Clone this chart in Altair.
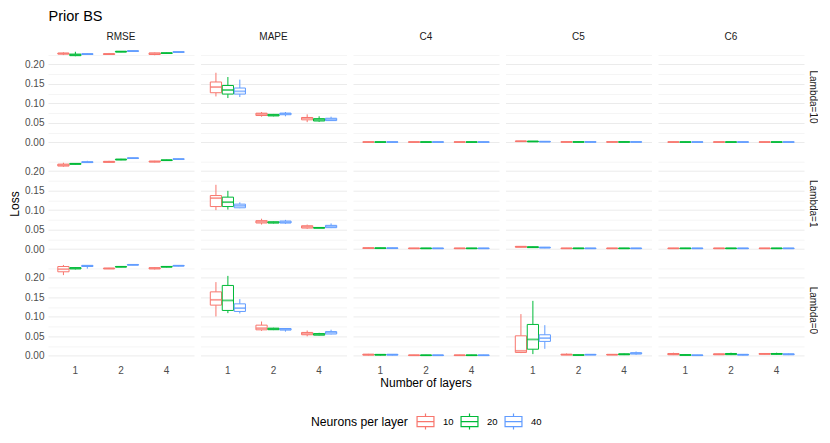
import altair as alt
import pandas as pd

FONT = "Liberation Sans"

lambdas = ["Lambda=10", "Lambda=1", "Lambda=0"]
metrics = ["RMSE", "MAPE", "C4", "C5", "C6"]
layers = ["1", "2", "4"]
neurons = ["10", "20", "40"]
colors = ["#F8766D", "#00BA38", "#619CFF"]

# Each list holds 9 boxes: layer 1 (10, 20, 40 neurons), layer 2 (...), layer 4 (...)
# Each box: (lower whisker, Q1, median, Q3, upper whisker)
rmse_l10 = [(0.224, 0.2265, 0.228, 0.229, 0.231), (0.221, 0.2225, 0.2245, 0.2265, 0.2325), (0.2245, 0.2255, 0.2265, 0.2275, 0.229),
            (0.2245, 0.2255, 0.2265, 0.2275, 0.2295), (0.2315, 0.232, 0.2327, 0.2335, 0.234), (0.233, 0.2335, 0.2343, 0.235, 0.2355),
            (0.2235, 0.2255, 0.2275, 0.2295, 0.2305), (0.2275, 0.2283, 0.229, 0.2297, 0.2305), (0.2305, 0.231, 0.2318, 0.2325, 0.233)]
mape_l10 = [(0.118, 0.1274, 0.142, 0.155, 0.1787), (0.1138, 0.124, 0.1344, 0.146, 0.1677), (0.1164, 0.124, 0.131, 0.1395, 0.161),
            (0.066, 0.069, 0.0728, 0.075, 0.078), (0.067, 0.068, 0.070, 0.072, 0.073), (0.067, 0.071, 0.0736, 0.075, 0.078),
            (0.052, 0.058, 0.0626, 0.064, 0.072), (0.053, 0.055, 0.058, 0.061, 0.067), (0.055, 0.056, 0.059, 0.062, 0.066)]
c4_l10 = [(0.0003, 0.0006, 0.001, 0.0014, 0.0018), (0.0003, 0.0006, 0.001, 0.0014, 0.0018), (0.0003, 0.0006, 0.001, 0.0014, 0.0018),
          (0.0003, 0.0006, 0.001, 0.0014, 0.0018), (0.0003, 0.0006, 0.001, 0.0014, 0.0018), (0.0003, 0.0006, 0.001, 0.0014, 0.0018),
          (0.0003, 0.0006, 0.001, 0.0014, 0.0018), (0.0003, 0.0006, 0.001, 0.0014, 0.0018), (0.0003, 0.0006, 0.001, 0.0014, 0.0018)]
c5_l10 = [(0.002, 0.0025, 0.003, 0.0035, 0.004), (0.0015, 0.002, 0.0025, 0.003, 0.0035), (0.001, 0.0015, 0.002, 0.0025, 0.003),
          (0.0005, 0.0008, 0.0012, 0.0016, 0.002), (0.0005, 0.0008, 0.0012, 0.0016, 0.002), (0.0005, 0.0008, 0.0012, 0.0016, 0.002),
          (0.0005, 0.0008, 0.0012, 0.0016, 0.002), (0.0005, 0.0008, 0.0012, 0.0016, 0.002), (0.0005, 0.0008, 0.0012, 0.0016, 0.002)]
c6_l10 = [(0.0003, 0.0006, 0.001, 0.0014, 0.0018), (0.0003, 0.0006, 0.001, 0.0014, 0.0018), (0.0003, 0.0006, 0.001, 0.0014, 0.0018),
          (0.0003, 0.0006, 0.001, 0.0014, 0.0018), (0.0003, 0.0006, 0.001, 0.0014, 0.0018), (0.0003, 0.0006, 0.001, 0.0014, 0.0018),
          (0.0003, 0.0006, 0.001, 0.0014, 0.0018), (0.0003, 0.0006, 0.001, 0.0014, 0.0018), (0.0003, 0.0006, 0.001, 0.0014, 0.0018)]

rmse_l1 = [(0.211, 0.213, 0.2155, 0.218, 0.2215), (0.2165, 0.2175, 0.2187, 0.2197, 0.2205), (0.221, 0.222, 0.223, 0.224, 0.2265),
           (0.2215, 0.2225, 0.2238, 0.225, 0.2265), (0.228, 0.229, 0.2297, 0.2305, 0.2315), (0.232, 0.2325, 0.2333, 0.234, 0.2345),
           (0.2225, 0.2235, 0.2246, 0.2255, 0.2265), (0.2268, 0.2273, 0.228, 0.2287, 0.2293), (0.2295, 0.2302, 0.2308, 0.2315, 0.232)]
mape_l1 = [(0.100, 0.1092, 0.1308, 0.1374, 0.165), (0.1015, 0.1092, 0.1205, 0.1333, 0.1495), (0.105, 0.106, 0.111, 0.1154, 0.120),
           (0.063, 0.067, 0.070, 0.073, 0.078), (0.066, 0.067, 0.0685, 0.070, 0.071), (0.065, 0.067, 0.069, 0.072, 0.075),
           (0.052, 0.054, 0.057, 0.060, 0.063), (0.0535, 0.0538, 0.0546, 0.0555, 0.056), (0.054, 0.055, 0.058, 0.061, 0.066)]
c4_l1 = [(0.0015, 0.002, 0.0027, 0.0033, 0.004), (0.0015, 0.002, 0.0025, 0.003, 0.0035), (0.0015, 0.002, 0.0025, 0.003, 0.0035),
         (0.001, 0.0015, 0.002, 0.0025, 0.003), (0.001, 0.0015, 0.002, 0.0025, 0.003), (0.001, 0.0015, 0.002, 0.0025, 0.003),
         (0.001, 0.0015, 0.002, 0.0025, 0.003), (0.001, 0.0015, 0.002, 0.0025, 0.003), (0.001, 0.0015, 0.002, 0.0025, 0.003)]
c5_l1 = [(0.004, 0.005, 0.006, 0.007, 0.008), (0.003, 0.004, 0.005, 0.006, 0.007), (0.0025, 0.0033, 0.004, 0.0047, 0.0055),
         (0.001, 0.0015, 0.002, 0.0025, 0.003), (0.001, 0.0015, 0.002, 0.0025, 0.003), (0.001, 0.0015, 0.002, 0.0025, 0.003),
         (0.001, 0.0015, 0.002, 0.0025, 0.003), (0.001, 0.0015, 0.002, 0.0025, 0.003), (0.001, 0.0015, 0.002, 0.0025, 0.003)]
c6_l1 = [(0.001, 0.0015, 0.002, 0.0025, 0.003), (0.001, 0.0015, 0.002, 0.0025, 0.003), (0.001, 0.0015, 0.002, 0.0025, 0.003),
         (0.001, 0.0015, 0.002, 0.0025, 0.003), (0.001, 0.0015, 0.002, 0.0025, 0.003), (0.001, 0.0015, 0.002, 0.0025, 0.003),
         (0.001, 0.0015, 0.002, 0.0025, 0.003), (0.001, 0.0015, 0.002, 0.0025, 0.003), (0.001, 0.0015, 0.002, 0.0025, 0.003)]

rmse_l0 = [(0.207, 0.2155, 0.2222, 0.229, 0.233), (0.2215, 0.223, 0.2245, 0.2262, 0.2275), (0.2235, 0.229, 0.2305, 0.232, 0.2325),
           (0.2225, 0.2232, 0.224, 0.2247, 0.2255), (0.2272, 0.2277, 0.2283, 0.229, 0.2295), (0.2322, 0.2327, 0.2333, 0.234, 0.2345),
           (0.2215, 0.223, 0.2245, 0.226, 0.2275), (0.227, 0.2277, 0.2283, 0.229, 0.2297), (0.2295, 0.2302, 0.231, 0.2317, 0.2325)]
mape_l0 = [(0.101, 0.130, 0.1436, 0.164, 0.189), (0.1095, 0.1164, 0.142, 0.1805, 0.205), (0.1087, 0.1138, 0.1223, 0.1333, 0.1454),
           (0.064, 0.0667, 0.071, 0.0787, 0.088), (0.066, 0.067, 0.069, 0.071, 0.072), (0.062, 0.066, 0.0685, 0.070, 0.071),
           (0.050, 0.054, 0.057, 0.060, 0.065), (0.052, 0.053, 0.0555, 0.057, 0.059), (0.055, 0.056, 0.060, 0.062, 0.067)]
c4_l0 = [(0.001, 0.002, 0.003, 0.004, 0.005), (0.001, 0.002, 0.0028, 0.0035, 0.0045), (0.001, 0.002, 0.003, 0.0037, 0.0045),
         (0.0005, 0.001, 0.0015, 0.002, 0.0025), (0.0005, 0.001, 0.0015, 0.002, 0.0025), (0.0005, 0.001, 0.0015, 0.002, 0.0025),
         (0.0005, 0.001, 0.0015, 0.002, 0.0025), (0.0005, 0.001, 0.0015, 0.002, 0.0025), (0.0005, 0.001, 0.0015, 0.002, 0.0025)]
c5_l0 = [(0.007, 0.0087, 0.0128, 0.0513, 0.107), (0.0044, 0.017, 0.042, 0.0805, 0.141), (0.018, 0.037, 0.0454, 0.054, 0.0787),
         (0.002, 0.0025, 0.003, 0.004, 0.006), (0.001, 0.0015, 0.002, 0.0025, 0.003), (0.002, 0.0025, 0.003, 0.0035, 0.004),
         (0.002, 0.0025, 0.003, 0.0035, 0.004), (0.002, 0.003, 0.004, 0.005, 0.006), (0.003, 0.005, 0.006, 0.008, 0.011)]
c6_l0 = [(0.002, 0.003, 0.004, 0.006, 0.008), (0.001, 0.0015, 0.002, 0.003, 0.004), (0.0005, 0.001, 0.0015, 0.002, 0.0025),
         (0.002, 0.003, 0.004, 0.005, 0.006), (0.002, 0.003, 0.005, 0.006, 0.008), (0.001, 0.002, 0.003, 0.0035, 0.004),
         (0.003, 0.004, 0.005, 0.006, 0.007), (0.003, 0.004, 0.005, 0.006, 0.008), (0.002, 0.003, 0.004, 0.005, 0.006)]

panels = {
    ("Lambda=10", "RMSE"): rmse_l10, ("Lambda=10", "MAPE"): mape_l10, ("Lambda=10", "C4"): c4_l10,
    ("Lambda=10", "C5"): c5_l10, ("Lambda=10", "C6"): c6_l10,
    ("Lambda=1", "RMSE"): rmse_l1, ("Lambda=1", "MAPE"): mape_l1, ("Lambda=1", "C4"): c4_l1,
    ("Lambda=1", "C5"): c5_l1, ("Lambda=1", "C6"): c6_l1,
    ("Lambda=0", "RMSE"): rmse_l0, ("Lambda=0", "MAPE"): mape_l0, ("Lambda=0", "C4"): c4_l0,
    ("Lambda=0", "C5"): c5_l0, ("Lambda=0", "C6"): c6_l0,
}

rows = []
for (lam, met), boxes in panels.items():
    for i, (lo, q1, med, q3, hi) in enumerate(boxes):
        rows.append({"lam": lam, "metric": met, "layer": layers[i // 3], "neuron": neurons[i % 3],
                     "lo": lo, "q1": q1, "med": med, "q3": q3, "hi": hi})
df = pd.DataFrame(rows)

major_test = "abs(datum.value*20 - round(datum.value*20)) < 0.001"
yvals = [0.0, 0.025, 0.05, 0.075, 0.1, 0.125, 0.15, 0.175, 0.2, 0.225]

x_enc = alt.X("layer:N", sort=layers,
              scale=alt.Scale(paddingInner=0.23, paddingOuter=0.215),
              axis=alt.Axis(title=None, labelAngle=0, domain=False, ticks=False, labelPadding=4))
xo_enc = alt.XOffset("neuron:N", sort=neurons, scale=alt.Scale(paddingInner=0.06, paddingOuter=0.0))
y_scale = alt.Scale(domain=[-0.0117, 0.2447], nice=False, zero=False)
y_axis = alt.Axis(title=None, values=yvals, domain=False, ticks=False, labelPadding=4,
                  labelExpr=f"{major_test} ? format(datum.value, '.2f') : ''",
                  gridWidth={"condition": {"test": major_test, "value": 1.0}, "value": 0.5})
color_enc = alt.Color("neuron:N", sort=neurons, scale=alt.Scale(domain=neurons, range=colors),
                      legend=alt.Legend(title="Neurons per layer", orient="none", direction="horizontal",
                                        legendX=263, legendY=365,
                                        titleOrient="left", titlePadding=8, columnPadding=4, labelOffset=8,
                                        symbolType="M-1,-0.6L1,-0.6L1,0.6L-1,0.6Z M-1,0L1,0 M0,-0.6L0,-0.95 M0,0.6L0,0.95",
                                        symbolSize=285, symbolStrokeWidth=1.2, symbolFillColor="white"))

base = alt.Chart().encode(x=x_enc, xOffset=xo_enc, color=color_enc)

whisk_lo = base.mark_rule(strokeWidth=1).encode(y=alt.Y("lo:Q", scale=y_scale, axis=y_axis), y2="q1:Q")
whisk_hi = base.mark_rule(strokeWidth=1).encode(y=alt.Y("q3:Q", scale=y_scale, axis=y_axis), y2="hi:Q")
box = base.mark_bar(filled=False, fill="white", strokeWidth=1).encode(
    y=alt.Y("q1:Q", scale=y_scale, axis=y_axis), y2="q3:Q")
median = base.mark_tick(filled=False, thickness=0.8, size=10.5, strokeWidth=1).encode(
    y=alt.Y("med:Q", scale=y_scale, axis=y_axis))

layered = alt.layer(whisk_lo, whisk_hi, box, median, data=df).properties(width=146, height=100)

chart = layered.facet(
    row=alt.Row("lam:N", sort=lambdas, header=alt.Header(title="Loss", titleOrient="left", titleAngle=-90,
                                                           labelOrient="right", labelAngle=90,
                                                           labelPadding=4, titlePadding=-19.5)),
    column=alt.Column("metric:N", sort=metrics, header=alt.Header(title="Number of layers", titleOrient="bottom",
                                                                  labelOrient="top", labelPadding=5,
                                                                  titlePadding=-7)),
    spacing={"row": 6.7, "column": 6.5},
).properties(
    title=alt.TitleParams("Prior BS", anchor="start", fontSize=14.5, fontWeight="normal", font=FONT,
                          color="#000000", offset=8, dx=40)
).configure_view(stroke=None).configure_axis(
    labelFont=FONT, titleFont=FONT, labelFontSize=10, titleFontSize=12, labelColor="#4D4D4D",
    titleColor="#000000", titleFontWeight="normal", gridColor="#EBEBEB"
).configure_header(
    labelFont=FONT, labelFontSize=10, labelColor="#1A1A1A",
    titleFont=FONT, titleFontSize=12, titleFontWeight="normal", titleColor="#000000"
).configure_legend(
    labelFont=FONT, titleFont=FONT, labelFontSize=9.5, titleFontSize=12.2, titleFontWeight="normal",
    titleColor="#000000", labelColor="#000000"
).properties(padding={"left": 0, "top": 0, "right": 0, "bottom": 0})

chart.save("out.html", embed_options={"renderer": "svg", "actions": False})
